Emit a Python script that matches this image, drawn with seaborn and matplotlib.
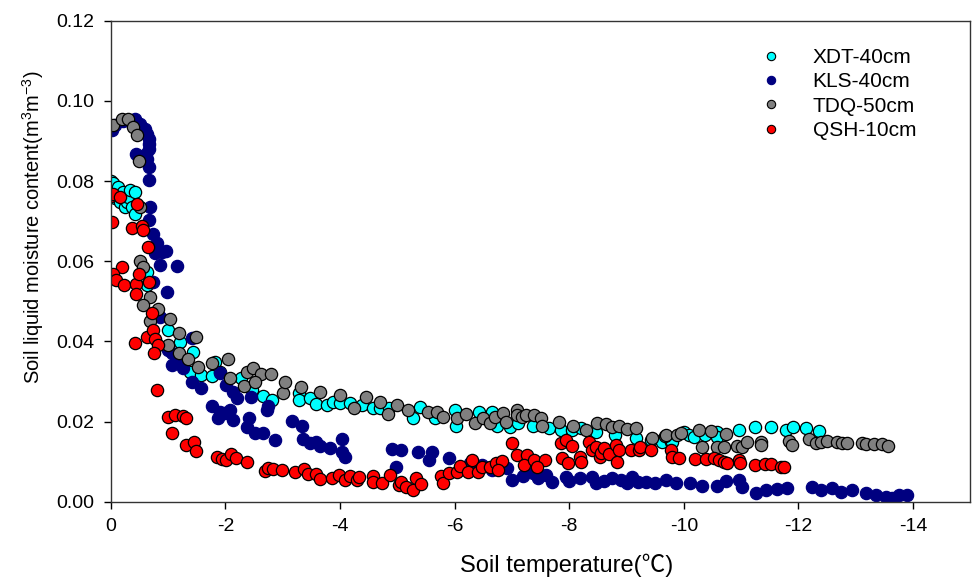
import pandas as pd
import seaborn as sns
import matplotlib.pyplot as plt
from matplotlib.lines import Line2D

# Values
xdt_temp = [0.0, -0.04, -0.08, -0.13, -0.16, -0.21, -0.25, -0.28, -0.30, -0.34, -0.37, -0.42, -0.43,
            -0.63, -0.63, -0.83, -1.00, -1.21, -1.44, -1.38, -1.58, -1.77, -1.82, -1.90, -2.28, -2.46,
            -2.65, -2.81, -3.28, -3.28, -3.47, -3.58, -3.77, -3.87, -4.00, -4.17, -4.39, -4.57, -4.69,
            -4.86, -5.27, -5.39, -5.65, -6.00, -6.03, -6.43, -6.66, -6.74, -6.96, -7.10, -7.36, -7.65,
            -7.86, -8.04, -8.21, -8.47, -8.79, -9.17, -9.43, -9.62, -9.62, -9.78, -9.80, -10.00, -10.09,
            -10.18, -10.36, -10.58, -10.58, -10.96, -11.24, -11.52, -11.78, -11.90, -12.13, -12.36]
xdt_moist = [0.0800, 0.0794, 0.0757, 0.0785, 0.0747, 0.0772, 0.0735, 0.0747, 0.0760, 0.0777, 0.0735, 0.0774, 0.0719,
             0.0573, 0.0540, 0.0465, 0.0428, 0.0399, 0.0374, 0.0324, 0.0316, 0.0313, 0.0349, 0.0324, 0.0308, 0.0278,
             0.0264, 0.0254, 0.0271, 0.0254, 0.0258, 0.0243, 0.0241, 0.0249, 0.0246, 0.0246, 0.0241, 0.0233, 0.0233,
             0.0233, 0.0208, 0.0236, 0.0208, 0.0228, 0.0190, 0.0223, 0.0223, 0.0190, 0.0186, 0.0196, 0.0190, 0.0183,
             0.0179, 0.0179, 0.0183, 0.0174, 0.0166, 0.0159, 0.0154, 0.0154, 0.0149, 0.0149, 0.0149, 0.0174, 0.0166,
             0.0161, 0.0166, 0.0174, 0.0161, 0.0178, 0.0186, 0.0186, 0.0178, 0.0186, 0.0183, 0.0176]

kls_temp = [-0.02, -0.08, -0.22, -0.42, -0.51, -0.60, -0.63, -0.66, -0.66, -0.66, -0.62, -0.44, -0.63, -0.66,
            -0.67, -0.68, -0.67, -0.74, -0.80, -0.77, -0.89, -0.96, -0.86, -1.16, -0.74, -0.98, -0.83, -0.86,
            -1.00, -1.07, -1.15, -1.07, -1.18, -1.26, -1.41, -1.41, -1.58, -1.90, -2.01, -2.13, -2.20, -1.77,
            -1.90, -1.99, -1.87, -2.08, -2.13, -2.37, -2.42, -2.51, -2.66, -2.86, -2.45, -2.75, -2.72, -3.17,
            -3.33, -3.35, -3.47, -3.59, -3.65, -3.82, -4.03, -4.03, -4.08, -4.90, -4.98, -5.07, -5.36, -5.60,
            -5.56, -5.91, -6.26, -6.47, -6.66, -6.92, -7.01, -7.20, -7.36, -7.45, -7.60, -7.70, -7.95, -8.00,
            -8.18, -8.40, -8.47, -8.60, -8.75, -8.90, -9.00, -9.10, -9.20, -9.34, -9.50, -9.69, -9.86, -10.10,
            -10.32, -10.58, -10.73, -10.96, -11.02, -11.25, -11.43, -11.63, -11.80, -12.23, -12.40, -12.58,
            -12.75, -12.93, -13.17, -13.35, -13.52, -13.63, -13.75, -13.89]
kls_moist = [0.0927, 0.0940, 0.0950, 0.0956, 0.0943, 0.0930, 0.0918, 0.0905, 0.0893, 0.0880, 0.0868, 0.0868, 0.0855, 0.0835,
             0.0802, 0.0735, 0.0702, 0.0669, 0.0645, 0.0620, 0.0622, 0.0625, 0.0590, 0.0587, 0.0548, 0.0523, 0.0465, 0.0460,
             0.0378, 0.0370, 0.0361, 0.0341, 0.0349, 0.0333, 0.0408, 0.0299, 0.0284, 0.0321, 0.0291, 0.0274, 0.0259, 0.0239,
             0.0224, 0.0221, 0.0209, 0.0229, 0.0204, 0.0186, 0.0209, 0.0171, 0.0171, 0.0154, 0.0261, 0.0239, 0.0229, 0.0201,
             0.0189, 0.0156, 0.0146, 0.0149, 0.0139, 0.0134, 0.0156, 0.0124, 0.0111, 0.0131, 0.0086, 0.0129, 0.0124, 0.0124,
             0.0104, 0.0109, 0.0096, 0.0091, 0.0079, 0.0084, 0.0054, 0.0064, 0.0071, 0.0058, 0.0066, 0.0049, 0.0061, 0.0052,
             0.0059, 0.0061, 0.0046, 0.0052, 0.0059, 0.0055, 0.0046, 0.0061, 0.0050, 0.0049, 0.0047, 0.0054, 0.0046, 0.0046,
             0.0039, 0.0039, 0.0051, 0.0054, 0.0037, 0.0021, 0.0029, 0.0031, 0.0034, 0.0036, 0.0029, 0.0034,
             0.0024, 0.0029, 0.0021, 0.0016, 0.0012, 0.0009, 0.0016, 0.0016]

tdq_temp = [-0.02, -0.04, -0.19, -0.30, -0.39, -0.45, -0.50, -0.51, -0.51, -0.56, -0.68, -0.57, -0.83, -0.68,
            -1.03, -1.20, -1.49, -1.00, -1.20, -1.35, -1.52, -1.77, -2.04, -2.08, -2.37, -2.48, -2.63, -2.79,
            -2.32, -2.51, -3.00, -3.04, -3.32, -3.65, -4.00, -4.25, -4.46, -4.70, -4.83, -5.00, -5.18, -5.53,
            -5.70, -5.80, -6.05, -6.20, -6.35, -6.49, -6.61, -6.70, -6.84, -6.90, -7.08, -7.08, -7.17, -7.25,
            -7.39, -7.51, -7.53, -7.83, -8.06, -8.30, -8.49, -8.65, -8.75, -8.87, -9.00, -9.17, -9.45, -9.67,
            -9.69, -9.88, -9.95, -10.27, -10.47, -10.74, -10.32, -10.58, -10.70, -10.93, -11.02, -11.10, -11.35,
            -11.35, -11.83, -11.89, -12.18, -12.30, -12.39, -12.50, -12.67, -12.76, -12.85, -13.10, -13.18,
            -13.31, -13.45, -13.56]
tdq_moist = [0.0765, 0.0940, 0.0956, 0.0956, 0.0934, 0.0914, 0.0850, 0.0735, 0.0600, 0.0585, 0.0510, 0.0490, 0.0480, 0.0450,
             0.0455, 0.0420, 0.0410, 0.0390, 0.0370, 0.0355, 0.0336, 0.0345, 0.0357, 0.0308, 0.0323, 0.0333, 0.0318, 0.0318,
             0.0289, 0.0299, 0.0270, 0.0299, 0.0286, 0.0274, 0.0266, 0.0233, 0.0261, 0.0249, 0.0220, 0.0241, 0.0228, 0.0223,
             0.0223, 0.0211, 0.0208, 0.0218, 0.0196, 0.0208, 0.0196, 0.0211, 0.0221, 0.0198, 0.0228, 0.0216, 0.0211, 0.0216,
             0.0216, 0.0208, 0.0190, 0.0198, 0.0190, 0.0179, 0.0196, 0.0194, 0.0186, 0.0190, 0.0181, 0.0183, 0.0159, 0.0164,
             0.0166, 0.0166, 0.0171, 0.0178, 0.0176, 0.0169, 0.0136, 0.0136, 0.0136, 0.0139, 0.0136, 0.0149, 0.0149,
             0.0141, 0.0151, 0.0141, 0.0156, 0.0146, 0.0149, 0.0151, 0.0149, 0.0146, 0.0146, 0.0146, 0.0144,
             0.0144, 0.0144, 0.0139]

qsh_temp = [0.00, -0.02, -0.04, -0.16, -0.45, -0.37, -0.54, -0.56, -0.65, -0.19, -0.04, -0.10, -0.23, -0.44,
            -0.50, -0.67, -0.44, -0.72, -0.42, -0.63, -0.74, -0.77, -0.83, -0.76, -0.81, -1.00, -1.12, -1.26,
            -1.31, -1.07, -1.31, -1.45, -1.49, -1.86, -1.94, -2.01, -2.09, -2.19, -2.38, -2.69, -2.75, -2.83,
            -2.99, -3.22, -3.37, -3.44, -3.59, -3.65, -3.86, -3.99, -4.08, -4.17, -4.29, -4.34, -4.57, -4.57,
            -4.74, -4.87, -5.03, -5.07, -5.16, -5.27, -5.33, -5.42, -5.77, -5.80, -5.91, -6.05, -6.09, -6.23,
            -6.31, -6.40, -6.47, -6.61, -6.73, -6.82, -6.75, -7.01, -7.08, -7.26, -7.21, -7.39, -7.57, -7.43,
            -7.86, -7.94, -8.04, -7.88, -7.97, -8.18, -8.21, -8.35, -8.39, -8.47, -8.53, -8.56, -8.61, -8.70,
            -8.82, -8.84, -8.87, -9.08, -9.22, -9.24, -9.43, -9.78, -9.80, -9.92, -10.20, -10.39, -10.53,
            -10.62, -10.70, -10.76, -10.96, -10.98, -11.24, -11.42, -11.52, -11.69, -11.75]
qsh_moist = [0.0762, 0.0697, 0.0769, 0.0760, 0.0742, 0.0684, 0.0689, 0.0677, 0.0635, 0.0585, 0.0568, 0.0553, 0.0540, 0.0543,
             0.0568, 0.0548, 0.0518, 0.0470, 0.0395, 0.0410, 0.0428, 0.0405, 0.0390, 0.0370, 0.0278, 0.0211, 0.0216, 0.0214,
             0.0209, 0.0171, 0.0141, 0.0149, 0.0126, 0.0111, 0.0106, 0.0104, 0.0119, 0.0109, 0.0099, 0.0076, 0.0084, 0.0081,
             0.0079, 0.0074, 0.0081, 0.0069, 0.0069, 0.0056, 0.0059, 0.0066, 0.0054, 0.0064, 0.0054, 0.0061, 0.0064, 0.0049,
             0.0046, 0.0066, 0.0041, 0.0049, 0.0037, 0.0029, 0.0059, 0.0044, 0.0064, 0.0046, 0.0071, 0.0074, 0.0089, 0.0074,
             0.0104, 0.0074, 0.0086, 0.0086, 0.0096, 0.0101, 0.0079, 0.0146, 0.0116, 0.0116, 0.0091, 0.0104, 0.0104, 0.0086,
             0.0146, 0.0154, 0.0139, 0.0109, 0.0096, 0.0111, 0.0099, 0.0149, 0.0129, 0.0136, 0.0111, 0.0121, 0.0134, 0.0119,
             0.0141, 0.0099, 0.0129, 0.0129, 0.0129, 0.0136, 0.0129, 0.0129, 0.0112, 0.0109, 0.0106, 0.0106, 0.0109,
             0.0104, 0.0099, 0.0096, 0.0104, 0.0096, 0.0091, 0.0094, 0.0094, 0.0087, 0.0087]

series_names = ['XDT-40cm', 'KLS-40cm', 'TDQ-50cm', 'QSH-10cm']
series_colors = ['#00FFFF', '#000080', '#808080', '#FF0000']
series_edges = ['black', '#000080', 'black', 'black']

x_ticks = [0, -2, -4, -6, -8, -10, -12, -14]
x_tick_labels = ['0', '-2', '-4', '-6', '-8', '-10', '-12', '-14']
y_ticks = [0.00, 0.02, 0.04, 0.06, 0.08, 0.10, 0.12]
y_tick_labels = ['0.00', '0.02', '0.04', '0.06', '0.08', '0.10', '0.12']

# Build one long table
frames = []
for name, t, m in zip(series_names,
                      [xdt_temp, kls_temp, tdq_temp, qsh_temp],
                      [xdt_moist, kls_moist, tdq_moist, qsh_moist]):
    frames.append(pd.DataFrame({'temp': t, 'moist': m, 'site': name}))
df = pd.concat(frames, ignore_index=True)

sns.set_style('ticks', {'text.color': 'black', 'axes.labelcolor': 'black',
                        'xtick.color': 'black', 'ytick.color': 'black'})
plt.rcParams['font.family'] = ['Liberation Sans', 'Noto Sans CJK SC', 'DejaVu Sans']
plt.rcParams['mathtext.fontset'] = 'custom'
plt.rcParams['mathtext.rm'] = 'Liberation Sans'

fig = plt.figure(figsize=(9.72, 5.77), dpi=100)
ax = fig.add_axes([0.1139, 0.1305, 0.8845, 0.8335])

# One scatter call per site so each gets its own edge colour
for name, col, edge in zip(series_names, series_colors, series_edges):
    sns.scatterplot(data=df[df['site'] == name], x='temp', y='moist', ax=ax,
                    color=col, edgecolor=edge, linewidth=0.9, s=78, legend=False)

ax.set_xlim(0, -15)
ax.set_ylim(0, 0.12)
ax.set_xticks(x_ticks)
ax.set_xticklabels(x_tick_labels)
ax.set_yticks(y_ticks)
ax.set_yticklabels(y_tick_labels)
ax.tick_params(axis='x', direction='out', length=5, width=1, pad=7, labelsize=14, colors='black')
ax.tick_params(axis='y', direction='out', length=5, width=1, pad=7, labelsize=14, colors='black')
for sp in ax.spines.values():
    sp.set_color('#333333')
    sp.set_linewidth(1)

ax.set_xlabel('Soil temperature(℃)', fontsize=17, color='black')
ax.set_ylabel(r'Soil liquid moisture content(m$^{3}$m$^{-3}$)', fontsize=14.5, color='black')
ax.xaxis.set_label_coords(0.53, -0.132)
ax.xaxis.label.set_va('center')
ax.yaxis.set_label_coords(-0.0904, 0.57)
ax.yaxis.label.set_va('center')

# Legend with small markers, no frame
handles = [Line2D([], [], linestyle='none', marker='o', markersize=6,
                  markerfacecolor=c, markeredgecolor=e, markeredgewidth=0.8)
           for c, e in zip(series_colors, series_edges)]
leg = ax.legend(handles, series_names, loc='upper left', bbox_to_anchor=(0.757, 0.943),
                frameon=False, fontsize=15, handlelength=0.9, handletextpad=1.55,
                labelspacing=0.25, borderpad=0, borderaxespad=0)
for txt in leg.get_texts():
    txt.set_color('black')

plt.savefig('out.png', dpi=100)
